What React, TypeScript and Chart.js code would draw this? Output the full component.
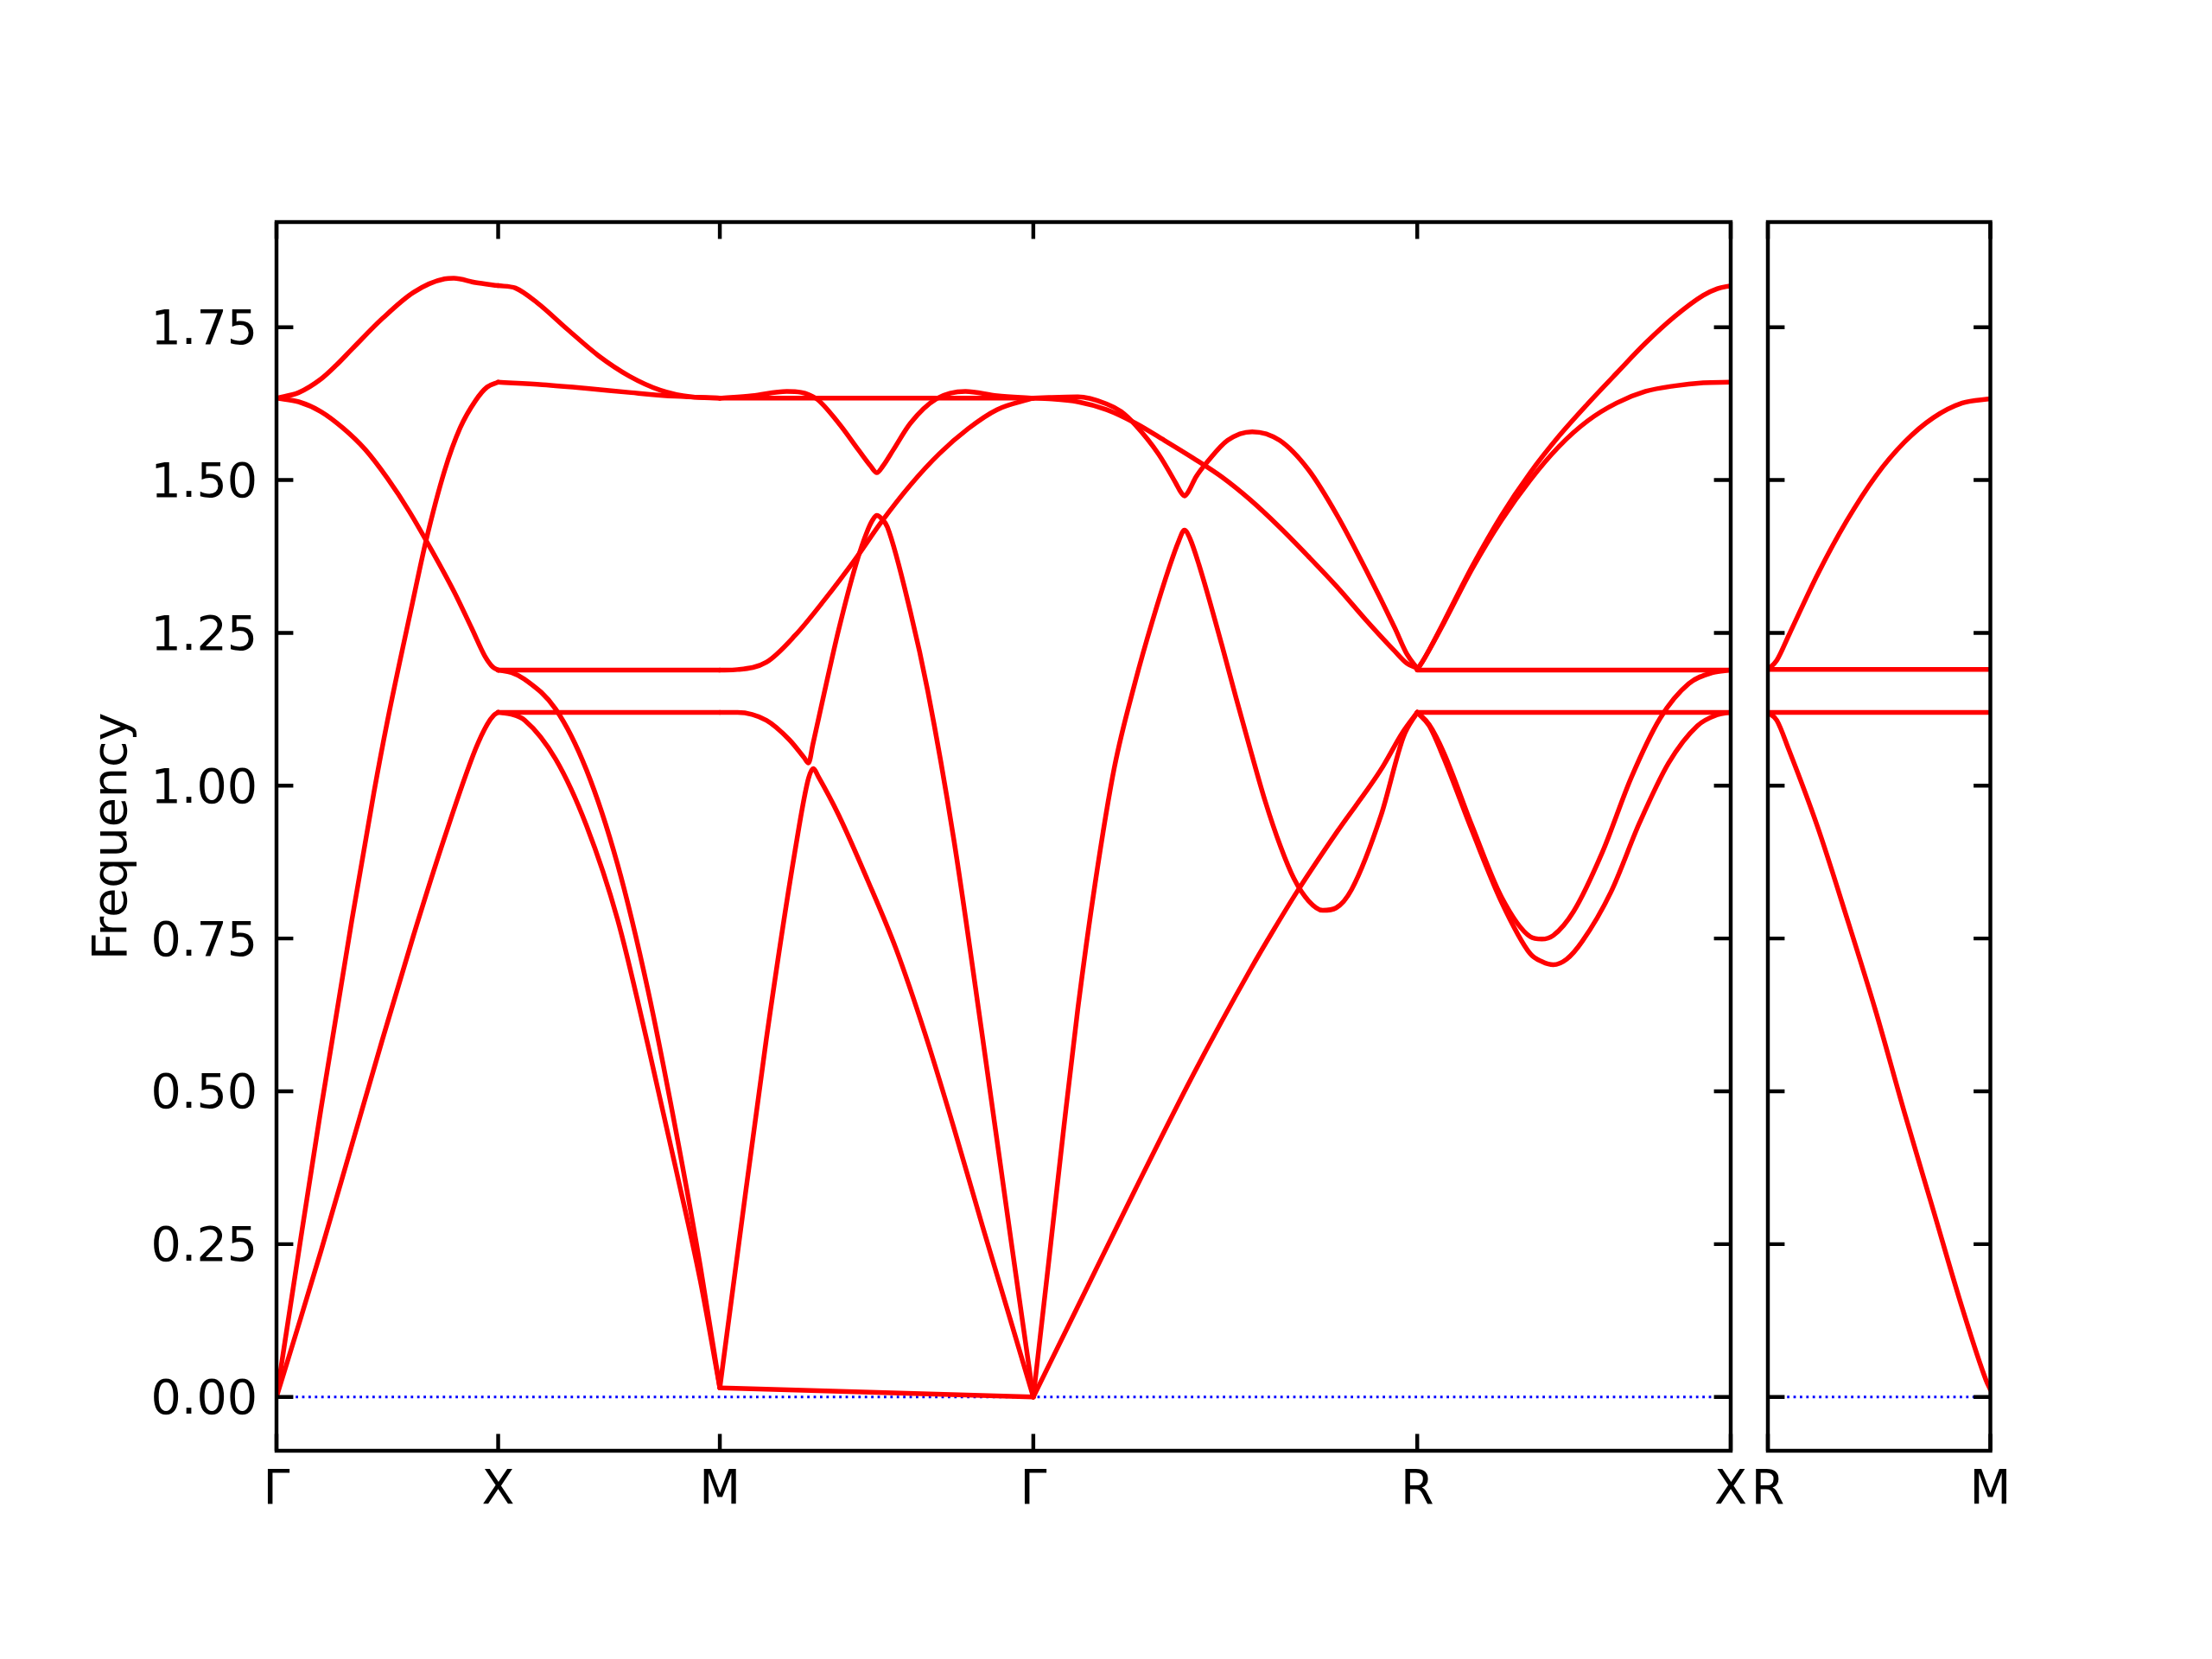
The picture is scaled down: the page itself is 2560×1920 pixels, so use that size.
import React, { useEffect, useRef } from 'react';
import { Chart, registerables } from 'chart.js';
Chart.register(...registerables);

// ---- k-path (high-symmetry points) ----
const kPath = [0, 0.5, 1.0, 1.7071, 2.5731, 3.2802];
const kLabels = ['Γ', 'X', 'M', 'Γ', 'R', 'X'];
const kPath2 = [0, 0.5];
const kLabels2 = ['R', 'M'];
const freqTicks = [0, 0.25, 0.5, 0.75, 1.0, 1.25, 1.5, 1.75];
const freqMin = -0.088;
const freqMax = 1.922;

// ---- Γ – X ----
const gx1 = [[0,1.634],[0.05,1.643],[0.1,1.665],[0.135,1.688],[0.17,1.714],[0.24,1.765],[0.309,1.807],[0.379,1.829],[0.4,1.83],[0.449,1.823],[0.5,1.818]];
const gx2 = [[0,1.634],[0.05,1.628],[0.1,1.612],[0.15,1.585],[0.2,1.55],[0.25,1.503],[0.3,1.448],[0.35,1.385],[0.4,1.318],[0.44,1.258],[0.47,1.212],[0.488,1.194],[0.5,1.189]];
const gx3 = [[0,0],[0.05,0.237],[0.1,0.47],[0.17,0.78],[0.22,0.99],[0.25,1.105],[0.307,1.3],[0.337,1.4],[0.379,1.515],[0.414,1.585],[0.449,1.63],[0.475,1.652],[0.5,1.66]];
const gx4 = [[0,0],[0.05,0.118],[0.1,0.238],[0.169,0.41],[0.239,0.585],[0.309,0.755],[0.379,0.915],[0.449,1.06],[0.475,1.1],[0.49,1.115],[0.5,1.12]];

// ---- X – M ----
const xm1 = [[0.5,1.818],[0.539,1.814],[0.588,1.79],[0.657,1.746],[0.727,1.703],[0.796,1.67],[0.866,1.647],[0.935,1.636],[1.0,1.634]];
const xm2 = [[0.5,1.66],[0.6,1.656],[0.7,1.65],[0.8,1.643],[0.9,1.637],[1.0,1.634]];
const xm3 = [[0.5,1.189],[1.0,1.189]];
const xm4 = [[0.5,1.12],[1.0,1.12]];
const xm5 = [[0.5,1.189],[0.53,1.185],[0.56,1.174],[0.63,1.125],[0.699,1.026],[0.769,0.872],[0.838,0.665],[0.9,0.439],[0.956,0.214],[1.0,0.015]];
const xm6 = [[0.5,1.12],[0.53,1.117],[0.56,1.107],[0.63,1.043],[0.699,0.935],[0.769,0.782],[0.838,0.575],[0.9,0.376],[0.956,0.19],[1.0,0.015]];

// ---- M – Γ ----
const mg1 = [[1.0,1.634],[1.7071,1.634]];
const mg2 = [[1.0,1.634],[1.073,1.638],[1.151,1.645],[1.216,1.634],[1.268,1.593],[1.313,1.549],[1.34,1.523],[1.354,1.512],[1.368,1.523],[1.391,1.549],[1.43,1.593],[1.489,1.633],[1.554,1.645],[1.625,1.638],[1.7071,1.634]];
const mg3 = [[1.0,1.189],[1.04,1.19],[1.105,1.202],[1.17,1.246],[1.235,1.303],[1.307,1.372],[1.365,1.432],[1.43,1.492],[1.495,1.543],[1.56,1.584],[1.625,1.615],[1.7071,1.634]];
const mg4 = [[1.0,1.12],[1.04,1.12],[1.105,1.107],[1.157,1.075],[1.19,1.046],[1.2,1.037],[1.21,1.068],[1.235,1.15],[1.268,1.255],[1.307,1.362],[1.333,1.417],[1.345,1.435],[1.354,1.442],[1.366,1.436],[1.378,1.423],[1.43,1.284],[1.469,1.155],[1.528,0.911],[1.593,0.586],[1.658,0.25],[1.7071,0]];
const mg5 = [[1.0,0.015],[1.04,0.235],[1.105,0.586],[1.17,0.895],[1.2,1.012],[1.211,1.028],[1.222,1.015],[1.268,0.952],[1.333,0.846],[1.398,0.732],[1.463,0.594],[1.528,0.44],[1.593,0.278],[1.658,0.12],[1.7071,0]];
const mg6 = [[1.0,0.015],[1.7071,0]];

// ---- Γ – R ----
const gr1 = [[1.7071,1.634],[1.7425,1.635],[1.8075,1.636],[1.8725,1.6245],[1.905,1.612],[1.9374,1.59],[1.9895,1.5425],[2.0285,1.495],[2.04,1.48],[2.048,1.474],[2.056,1.48],[2.074,1.505],[2.1,1.53],[2.1455,1.565],[2.2008,1.579],[2.2625,1.565],[2.3275,1.517],[2.3926,1.442],[2.4575,1.353],[2.5225,1.258],[2.55,1.215],[2.5731,1.192]];
const gr2 = [[1.7071,1.634],[1.7425,1.633],[1.8075,1.628],[1.8725,1.615],[1.9374,1.593],[2.0025,1.565],[2.0675,1.536],[2.1324,1.505],[2.1975,1.467],[2.2625,1.423],[2.3275,1.375],[2.3926,1.325],[2.4575,1.271],[2.5225,1.22],[2.55,1.2],[2.5731,1.192]];
const gr3 = [[1.7071,0],[1.742,0.222],[1.775,0.435],[1.8075,0.635],[1.8465,0.84],[1.89,1.03],[1.937,1.17],[1.976,1.27],[2.015,1.36],[2.035,1.4],[2.048,1.418],[2.06,1.405],[2.0805,1.362],[2.1324,1.23],[2.165,1.142],[2.1975,1.057],[2.23,0.975],[2.265,0.9],[2.295,0.848],[2.3275,0.812],[2.36,0.796],[2.39,0.8],[2.425,0.83],[2.4917,0.952],[2.542,1.08],[2.5731,1.12]];
const gr4 = [[1.7071,0],[1.8075,0.148],[1.9374,0.34],[2.0675,0.527],[2.1975,0.7],[2.25,0.765],[2.3015,0.826],[2.3926,0.925],[2.4902,1.025],[2.54,1.087],[2.5731,1.12]];

// ---- R – X ----
const rx1 = [[2.5731,1.19],[2.585,1.203],[2.6,1.222],[2.633,1.268],[2.698,1.36],[2.763,1.442],[2.828,1.512],[2.893,1.572],[2.958,1.625],[3.023,1.675],[3.088,1.724],[3.153,1.767],[3.218,1.802],[3.25,1.813],[3.2802,1.818]];
const rx2 = [[2.5731,1.19],[2.585,1.203],[2.6,1.222],[2.633,1.266],[2.698,1.356],[2.763,1.434],[2.828,1.5],[2.893,1.555],[2.958,1.597],[3.023,1.626],[3.088,1.645],[3.153,1.654],[3.218,1.659],[3.2802,1.66]];
const rx3 = [[2.5731,1.189],[3.2802,1.189]];
const rx4 = [[2.5731,1.12],[3.2802,1.12]];
const rx5 = [[2.5731,1.12],[2.6,1.1],[2.633,1.054],[2.698,0.932],[2.763,0.818],[2.828,0.753],[2.854,0.749],[2.88,0.755],[2.9256,0.794],[2.9906,0.891],[3.0557,1.013],[3.1207,1.11],[3.1857,1.167],[3.24,1.185],[3.2802,1.189]];
const rx6 = [[2.5731,1.12],[2.6,1.098],[2.633,1.045],[2.698,0.924],[2.763,0.81],[2.828,0.725],[2.855,0.712],[2.88,0.707],[2.91,0.716],[2.945,0.745],[3.01,0.826],[3.075,0.94],[3.14,1.037],[3.205,1.098],[3.25,1.116],[3.2802,1.12]];

// ---- second panel R – M ----
const rm1 = [[0,1.19],[0.02,1.205],[0.047,1.246],[0.112,1.346],[0.177,1.433],[0.242,1.506],[0.307,1.562],[0.372,1.602],[0.437,1.626],[0.5,1.633]];
const rm2 = [[0,1.19],[0.5,1.19]];
const rm3 = [[0,1.12],[0.5,1.12]];
const rm4 = [[0,1.12],[0.02,1.107],[0.047,1.059],[0.112,0.932],[0.177,0.785],[0.242,0.632],[0.307,0.465],[0.372,0.305],[0.437,0.145],[0.49,0.028],[0.5,0.012]];

const mainCurves = [gx1, gx2, gx3, gx4, xm1, xm2, xm3, xm4, xm5, xm6, mg1, mg2, mg3, mg4, mg5, mg6, gr1, gr2, gr3, gr4, rx1, rx2, rx3, rx4, rx5, rx6];
const sideCurves = [rm1, rm2, rm3, rm4];

const FONT = { family: 'DejaVu Sans', size: 55.5 };

function bandDatasets(curves: number[][][]) {
  return curves.map((c) => ({
    data: c.map(([x, y]) => ({ x, y })),
    borderColor: '#ff0000',
    borderWidth: 5.5,
    pointRadius: 0,
    pointHoverRadius: 0,
    fill: false,
    cubicInterpolationMode: 'monotone',
    borderJoinStyle: 'round',
    borderCapStyle: 'round',
    order: 0,
  }));
}

function zeroLine(xMax: number) {
  return {
    data: [{ x: 0, y: 0 }, { x: xMax, y: 0 }],
    borderColor: '#0000ff',
    borderWidth: 2.8,
    borderDash: [2.8, 4.6],
    borderCapStyle: 'butt',
    pointRadius: 0,
    fill: false,
    order: 10,
  };
}

function framePlugin(xt: number[]) {
  return {
    id: 'frameTicks',
    afterDraw(chart: any) {
      const { ctx, chartArea, scales } = chart;
      const { left, right, top, bottom } = chartArea;
      const L = 19.4;
      ctx.save();
      ctx.strokeStyle = '#000';
      ctx.lineWidth = 4.44;
      ctx.lineCap = 'butt';
      ctx.beginPath();
      for (const v of freqTicks) {
        const y = scales.y.getPixelForValue(v);
        ctx.moveTo(left, y); ctx.lineTo(left + L, y);
        ctx.moveTo(right, y); ctx.lineTo(right - L, y);
      }
      for (const v of xt) {
        const x = scales.x.getPixelForValue(v);
        ctx.moveTo(x, bottom); ctx.lineTo(x, bottom - L);
        ctx.moveTo(x, top); ctx.lineTo(x, top + L);
      }
      ctx.stroke();
      ctx.lineJoin = 'miter';
      ctx.strokeRect(left, top, right - left, bottom - top);
      ctx.restore();
    },
  };
}

function xScale(pos: number[], labels: string[]) {
  return {
    type: 'linear',
    min: pos[0],
    max: pos[pos.length - 1],
    grid: { display: false, drawTicks: false },
    border: { display: false },
    ticks: {
      font: FONT, color: '#000', padding: 13, autoSkip: false, maxRotation: 0, minRotation: 0,
      callback: (_v: any, i: number) => labels[i],
    },
    afterBuildTicks: (s: any) => { s.ticks = pos.map((v) => ({ value: v })); },
    afterFit: (s: any) => { s.height = 241; s.paddingLeft = 0; s.paddingRight = 0; },
  };
}

function config1(): any {
  return {
    type: 'line',
    data: { datasets: [...bandDatasets(mainCurves), zeroLine(kPath[kPath.length - 1])] },
    options: {
      responsive: false, animation: false, devicePixelRatio: 1, events: [],
      layout: { padding: { left: 0, top: 257, right: 557, bottom: 0 } },
      plugins: { legend: { display: false }, tooltip: { enabled: false } },
      scales: {
        x: xScale(kPath, kLabels),
        y: {
          type: 'linear', min: freqMin, max: freqMax,
          grid: { display: false, drawTicks: false },
          border: { display: false },
          ticks: { font: FONT, color: '#000', padding: 22, labelOffset: 5, callback: (v: any) => Number(v).toFixed(2) },
          afterBuildTicks: (s: any) => { s.ticks = freqTicks.map((v) => ({ value: v })); },
          afterFit: (s: any) => { s.width = 320; s.paddingTop = 0; s.paddingBottom = 0; },
          title: { display: true, text: 'Frequency', font: FONT, color: '#000', padding: { top: 98, bottom: 0 } },
        },
      },
    },
    plugins: [framePlugin(kPath)],
  };
}

function config2(): any {
  return {
    type: 'line',
    data: { datasets: [...bandDatasets(sideCurves), zeroLine(kPath2[1])] },
    options: {
      responsive: false, animation: false, devicePixelRatio: 1, events: [],
      layout: { padding: { left: 2046, top: 257, right: 256.5, bottom: 0 } },
      plugins: { legend: { display: false }, tooltip: { enabled: false } },
      scales: {
        x: xScale(kPath2, kLabels2),
        y: {
          type: 'linear', min: freqMin, max: freqMax, display: false,
          afterFit: (s: any) => { s.width = 0; s.paddingTop = 0; s.paddingBottom = 0; },
        },
      },
    },
    plugins: [framePlugin(kPath2)],
  };
}

export default function App() {
  const ref1 = useRef<HTMLCanvasElement>(null);
  const ref2 = useRef<HTMLCanvasElement>(null);
  useEffect(() => {
    document.body.style.margin = '0';
    const c1 = new Chart(ref1.current as HTMLCanvasElement, config1());
    const c2 = new Chart(ref2.current as HTMLCanvasElement, config2());
    return () => { c1.destroy(); c2.destroy(); };
  }, []);
  const cs: any = { position: 'absolute', left: 0, top: 0, width: 2560, height: 1920 };
  return (
    <div style={{ position: 'relative', width: 2560, height: 1920, background: '#fff' }}>
      <canvas ref={ref1} width={2560} height={1920} style={cs} />
      <canvas ref={ref2} width={2560} height={1920} style={cs} />
    </div>
  );
}
